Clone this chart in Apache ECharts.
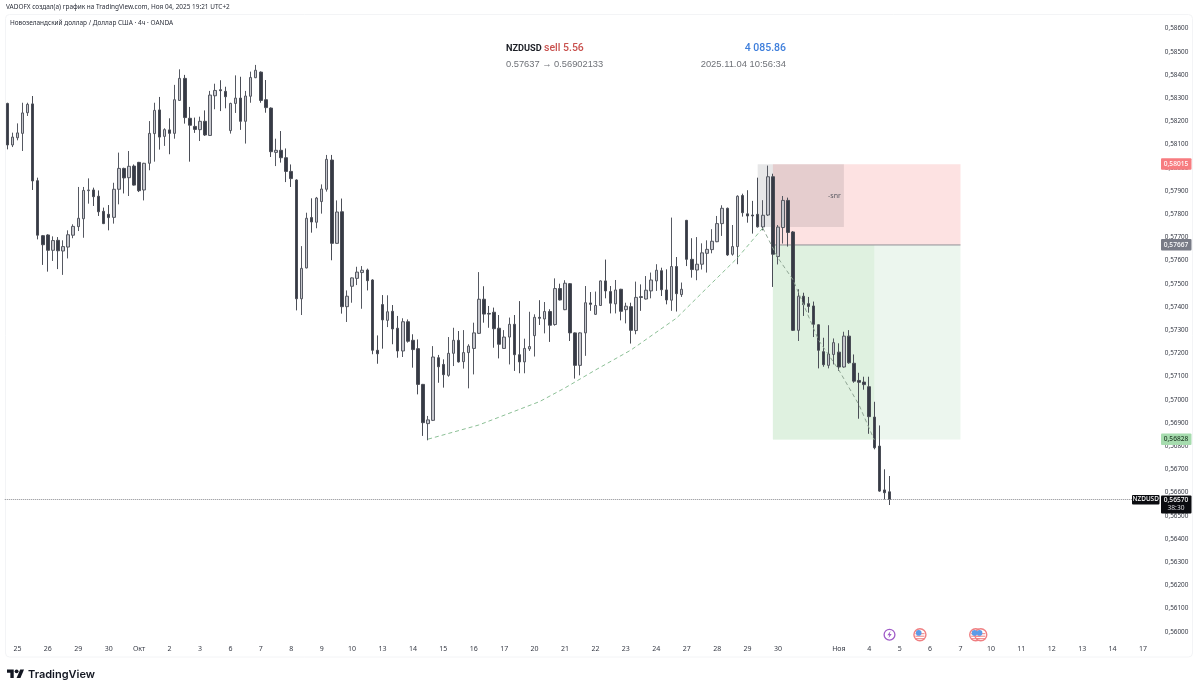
<!DOCTYPE html>
<html><head><meta charset="utf-8">
<style>html,body{margin:0;padding:0;background:#fff}#c{width:1200px;height:691px}</style>
<script src="https://cdn.jsdelivr.net/npm/echarts@6/dist/echarts.min.js"></script>
</head><body><div id="c"></div>
<script>
const opens=[0.58277,0.58098,0.58129,0.58148,0.58237,0.58275,0.57944,0.57707,0.57710,0.57644,
0.57687,0.57641,0.57658,0.57709,0.57746,0.57780,0.57901,0.57904,0.57877,0.57812,
0.57799,0.57786,0.57907,0.57997,0.57957,0.58007,0.58023,0.57904,0.58019,0.58147,
0.58249,0.58135,0.58163,0.58148,0.58290,0.58385,0.58213,0.58178,0.58164,0.58200,
0.58139,0.58310,0.58336,0.58329,0.58160,0.58277,0.58300,0.58200,0.58308,0.58388,
0.58412,0.58293,0.58257,0.58066,0.58075,0.58043,0.57984,0.57947,0.57435,0.57568,
0.57785,0.57765,0.57854,0.57907,0.58033,0.57674,0.57810,0.57401,0.57489,0.57523,
0.57548,0.57559,0.57516,0.57213,0.57410,0.57342,0.57381,0.57308,0.57210,0.57336,
0.57256,0.57220,0.57066,0.56897,0.56911,0.57181,0.57152,0.57105,0.57200,0.57256,
0.57164,0.57203,0.57221,0.57286,0.57433,0.57372,0.57377,0.57308,0.57221,0.57270,
0.57325,0.57194,0.57163,0.57219,0.57276,0.57355,0.57348,0.57380,0.57324,0.57479,
0.57388,0.57500,0.57288,0.57148,0.57288,0.57417,0.57368,0.57406,0.57512,0.57466,
0.57413,0.57476,0.57388,0.57401,0.57298,0.57444,0.57434,0.57469,0.57512,0.57556,
0.57473,0.57429,0.57574,0.57453,0.57773,0.57605,0.57559,0.57584,0.57631,0.57647,
0.57681,0.57759,0.57825,0.57627,0.57660,0.57880,0.57801,0.57796,0.57799,0.57745,
0.57796,0.57961,0.57617,0.57742,0.57859,0.57723,0.57299,0.57446,0.57414,0.57404,
0.57323,0.57207,0.57148,0.57195,0.57205,0.57141,0.57274,0.57157,0.57083,0.57076,
0.57056,0.56925,0.56800,0.56611,0.56603];
const highs=[0.58280,0.58151,0.58191,0.58280,0.58280,0.58309,0.57957,0.57710,0.57713,0.57704,
0.57701,0.57687,0.57730,0.57756,0.57917,0.57917,0.57954,0.57914,0.57902,0.57828,
0.57839,0.57935,0.58065,0.58000,0.58072,0.58014,0.58025,0.58021,0.58201,0.58280,
0.58305,0.58170,0.58213,0.58357,0.58424,0.58400,0.58262,0.58216,0.58220,0.58247,
0.58331,0.58362,0.58377,0.58349,0.58280,0.58398,0.58392,0.58331,0.58414,0.58443,
0.58415,0.58378,0.58260,0.58125,0.58158,0.58083,0.58014,0.57950,0.57662,0.57806,
0.57868,0.57874,0.57928,0.58055,0.58055,0.57859,0.57867,0.57471,0.57527,0.57573,
0.57576,0.57565,0.57519,0.57277,0.57451,0.57450,0.57408,0.57361,0.57351,0.57346,
0.57282,0.57260,0.57068,0.56930,0.57231,0.57193,0.57174,0.57270,0.57310,0.57296,
0.57300,0.57239,0.57332,0.57550,0.57489,0.57404,0.57397,0.57365,0.57300,0.57354,
0.57365,0.57425,0.57263,0.57379,0.57368,0.57429,0.57421,0.57390,0.57523,0.57500,
0.57515,0.57503,0.57290,0.57290,0.57490,0.57464,0.57466,0.57514,0.57604,0.57490,
0.57516,0.57478,0.57418,0.57418,0.57509,0.57497,0.57533,0.57548,0.57584,0.57569,
0.57562,0.57785,0.57615,0.57505,0.57775,0.57696,0.57701,0.57674,0.57687,0.57735,
0.57792,0.57838,0.57828,0.57753,0.57881,0.57888,0.57903,0.57857,0.57957,0.57860,
0.58009,0.57974,0.57753,0.57878,0.57871,0.57727,0.57476,0.57461,0.57443,0.57423,
0.57325,0.57267,0.57321,0.57264,0.57243,0.57293,0.57300,0.57195,0.57116,0.57099,
0.57099,0.56991,0.56889,0.56700,0.56671];
const lows=[0.58079,0.58089,0.58118,0.58072,0.58223,0.57904,0.57691,0.57581,0.57552,0.57598,
0.57563,0.57538,0.57609,0.57696,0.57727,0.57698,0.57845,0.57835,0.57792,0.57757,
0.57730,0.57759,0.57842,0.57889,0.57878,0.57923,0.57895,0.57859,0.57989,0.58026,
0.58078,0.58094,0.58058,0.58125,0.58288,0.58190,0.58026,0.58150,0.58115,0.58137,
0.58137,0.58252,0.58244,0.58256,0.58147,0.58236,0.58163,0.58104,0.58280,0.58386,
0.58280,0.58237,0.58046,0.58007,0.58022,0.57938,0.57917,0.57385,0.57365,0.57566,
0.57720,0.57739,0.57802,0.57897,0.57601,0.57672,0.57371,0.57335,0.57418,0.57494,
0.57392,0.57471,0.57196,0.57155,0.57220,0.57313,0.57239,0.57181,0.57184,0.57246,
0.57138,0.57023,0.56844,0.56825,0.56908,0.57073,0.57052,0.57099,0.57145,0.57160,
0.57134,0.57049,0.57109,0.57283,0.57332,0.57310,0.57224,0.57178,0.57219,0.57152,
0.57124,0.57114,0.57114,0.57210,0.57186,0.57322,0.57286,0.57249,0.57319,0.57428,
0.57386,0.57253,0.57091,0.57105,0.57189,0.57383,0.57365,0.57404,0.57437,0.57372,
0.57372,0.57342,0.57329,0.57242,0.57282,0.57383,0.57432,0.57437,0.57469,0.57447,
0.57411,0.57383,0.57380,0.57443,0.57576,0.57526,0.57515,0.57561,0.57548,0.57631,
0.57679,0.57706,0.57620,0.57621,0.57584,0.57789,0.57763,0.57716,0.57742,0.57730,
0.57792,0.57486,0.57583,0.57673,0.57660,0.57296,0.57253,0.57361,0.57375,0.57270,
0.57135,0.57142,0.57135,0.57152,0.57124,0.57138,0.57155,0.57073,0.56918,0.57043,
0.56853,0.56786,0.56603,0.56570,0.56546];
const closes=[0.58098,0.58132,0.58150,0.58236,0.58273,0.57943,0.57709,0.57668,0.57644,0.57686,
0.57642,0.57660,0.57711,0.57747,0.57782,0.57902,0.57904,0.57875,0.57810,0.57759,
0.57785,0.57907,0.57997,0.57956,0.58006,0.57925,0.57901,0.58019,0.58148,0.58247,
0.58132,0.58164,0.58148,0.58293,0.58385,0.58216,0.58183,0.58165,0.58200,0.58141,
0.58313,0.58333,0.58332,0.58306,0.58277,0.58300,0.58200,0.58309,0.58389,0.58420,
0.58290,0.58259,0.58069,0.58075,0.58043,0.57984,0.57953,0.57435,0.57566,0.57782,
0.57766,0.57869,0.57908,0.58036,0.57674,0.57809,0.57401,0.57446,0.57525,0.57550,
0.57558,0.57513,0.57213,0.57198,0.57344,0.57379,0.57305,0.57210,0.57336,0.57252,
0.57216,0.57066,0.56901,0.56913,0.57184,0.57142,0.57108,0.57200,0.57256,0.57163,
0.57203,0.57231,0.57288,0.57433,0.57369,0.57369,0.57306,0.57239,0.57270,0.57325,
0.57194,0.57163,0.57221,0.57229,0.57355,0.57351,0.57380,0.57321,0.57479,0.57430,
0.57502,0.57288,0.57148,0.57288,0.57418,0.57411,0.57406,0.57512,0.57469,0.57416,
0.57473,0.57381,0.57403,0.57299,0.57441,0.57441,0.57472,0.57516,0.57558,0.57474,
0.57430,0.57574,0.57457,0.57476,0.57605,0.57561,0.57584,0.57633,0.57648,0.57683,
0.57759,0.57825,0.57624,0.57660,0.57877,0.57806,0.57792,0.57792,0.57745,0.57795,
0.57961,0.57627,0.57744,0.57859,0.57721,0.57299,0.57446,0.57410,0.57402,0.57325,
0.57213,0.57151,0.57197,0.57246,0.57141,0.57274,0.57159,0.57080,0.57075,0.57065,
0.56927,0.56793,0.56606,0.56599,0.56570];

const dateLabels=["25","26","29","30","Окт","2","3","6","7","8","9","10","13","14","15","16","17","20","21","22","23","24","27","28","29","30","","Ноя","4","5","6","7","10","11","12","13","14","17"];
const FIRST_LABEL_BAR=2, BARS_PER_LABEL=6, BAR_SLOTS=228;

const stopPrice=0.58015, entryPrice=0.57667, targetPrice=0.56828, lastPrice=0.56570, grayBoxBottom=0.57744;
const riskFromBar=151, riskToBar=188, darkToBar=171, grayFromBar=148, grayToBar=165;

const arcBars=[83,93,105,110,116,123,132,138,144,149];
const arcPrices=[0.56830,0.56891,0.56992,0.57051,0.57128,0.57214,0.57352,0.57482,0.57611,0.57740];
const dropBars=[149,152,155,160,164,168,171];
const dropPrices=[0.57740,0.57611,0.57516,0.57257,0.57128,0.56977,0.56826];
const iconBars=[174,180,191,192];

const categories=Array.from({length:BAR_SLOTS},(_,i)=>{
  const k=(i-FIRST_LABEL_BAR)/BARS_PER_LABEL;
  return Number.isInteger(k)&&dateLabels[k]!==undefined?dateLabels[k]:"";
});
const candles=opens.map((o,i)=>[o,closes[i],lows[i],highs[i]]);
const comma=v=>v.toFixed(5).replace(".",",");
const FONT='"Noto Sans",sans-serif';
const chart=echarts.init(document.getElementById('c'),null,{renderer:'canvas'});
const box=(x0,x1,p0,p1,color,extra)=>[Object.assign({xAxis:x0,yAxis:p0,itemStyle:{color}},extra||{}),{xAxis:x1,yAxis:p1}];
chart.setOption({
  animation:false,backgroundColor:'#fff',
  grid:{left:4.77,top:28.5,width:1156,height:603.2,containLabel:false},
  xAxis:{type:'category',data:categories,boundaryGap:true,axisLine:{show:false},axisTick:{show:false},splitLine:{show:false},
    axisLabel:{interval:(i)=>(i-FIRST_LABEL_BAR)%BARS_PER_LABEL===0,margin:14,fontSize:7,color:'#363a45',fontFamily:FONT,
      hideOverlap:false,showMinLabel:true,showMaxLabel:true}},
  yAxis:{type:'value',position:'right',min:0.56,max:0.586,interval:0.001,scale:true,axisLine:{show:false},axisTick:{show:false},splitLine:{show:false},
    axisLabel:{inside:false,margin:4,fontSize:6.4,color:'#363a45',fontFamily:FONT,formatter:v=>comma(v)}},
  series:[
    {type:'line',name:'boxes',data:[],z:1,silent:true,markArea:{silent:true,precision:5,data:[
      box(riskFromBar,riskToBar,stopPrice,entryPrice,'#fde2e2'),
      box(riskFromBar,riskToBar,entryPrice,targetPrice,'#ecf6ee'),
      box(riskFromBar,darkToBar,entryPrice,targetPrice,'#dff1e0'),
      box(grayFromBar,grayToBar,stopPrice,grayBoxBottom,'rgba(40,40,50,0.115)',
        {label:{show:true,position:'insideRight',distance:3,formatter:'-snr',fontSize:7,color:'#5a5a62',fontFamily:FONT}})
    ]}},
    {type:'line',name:'entry',z:1,silent:true,symbol:'none',data:[[riskFromBar,entryPrice],[riskToBar,entryPrice]],lineStyle:{color:'#8f9095',width:1}},
    {type:'line',name:'arc',z:3,silent:true,symbol:'none',data:arcBars.map((b,i)=>[b,arcPrices[i]]),lineStyle:{color:'#8cc096',width:1,type:[4,3]}},
    {type:'line',name:'drop',z:3,silent:true,symbol:'none',data:dropBars.map((b,i)=>[b,dropPrices[i]]),lineStyle:{color:'#8fa594',width:1,type:[4,3]}},
    {type:'candlestick',name:'NZDUSD',z:2,barWidth:3,data:candles,silent:true,
      itemStyle:{color:'#c6c7cd',color0:'#363a45',borderColor:'#565962',borderColor0:'#4a4d56',borderWidth:1},
      markLine:{silent:true,precision:5,symbol:'none',animation:false,label:{show:false},lineStyle:{color:'#8a8b90',width:1,type:[1,1]},data:[{yAxis:lastPrice}]}}
  ]
});

const py=p=>chart.convertToPixel({yAxisIndex:0},p);
const bx=i=>chart.convertToPixel({xAxisIndex:0},i);
function tag(price,bg,fg){
  const y=py(price);
  return [{type:'rect',z:50,shape:{x:1161,y:y-6,width:30.5,height:11.5,r:1},style:{fill:bg}},
    {type:'text',z:51,x:1176,y:y-.2,style:{text:comma(price),font:'500 6.6px '+FONT,fill:fg,textAlign:'center',textVerticalAlign:'middle'}}];
}
const iconY=py(0.56)+3;
function flagIcon(x){
  const g=[{type:'circle',z:40,shape:{cx:x,cy:iconY,r:6},style:{fill:'#fff',stroke:'#ef7f82',lineWidth:1.4}}];
  [-1,1.5,4].forEach(d=>g.push({type:'line',z:41,shape:{x1:x-4.6,y1:iconY+d,x2:x+4.6,y2:iconY+d},style:{stroke:'#ef7f82',lineWidth:1}}));
  g.push({type:'circle',z:42,shape:{cx:x-1.2,cy:iconY-1.8,r:2.8},style:{fill:'#5b9be8'}});
  return g;
}
const px=iconBars.map(bx);
const lx=px[0], ly=iconY;
const sc=0.48, lgX=7, lgY=667.5;
const lg=pts=>pts.map(([a,b])=>[lgX+a*sc,lgY+b*sc]);
chart.setOption({graphic:{elements:[
  {type:'rect',z:0,silent:true,shape:{x:5.5,y:14.5,width:1187,height:642.5,r:4},style:{fill:'none',stroke:'#f3f4f6',lineWidth:1}},
  {type:'text',z:60,x:6,y:7,style:{text:'VADOFX создал(а) график на TradingView.com, Ноя 04, 2025 19:21 UTC+2',font:'6.45px '+FONT,fill:'#2a2e39',textVerticalAlign:'middle'}},
  {type:'text',z:60,x:10,y:23.5,style:{text:'Новозеландский доллар / Доллар США · 4ч · OANDA',font:'6.45px '+FONT,fill:'#2a2e39',textVerticalAlign:'middle'}},
  {type:'text',z:60,x:506,y:48.5,style:{text:'NZDUSD',font:'bold 9.2px Roboto,sans-serif',fill:'#1c1f26',textVerticalAlign:'middle'}},
  {type:'text',z:60,x:544,y:48.5,style:{text:'sell 5.56',font:'500 10.5px Roboto,sans-serif',fill:'#c9524f',textVerticalAlign:'middle'}},
  {type:'text',z:60,x:786,y:48.5,style:{text:'4 085.86',font:'500 10.5px Roboto,sans-serif',fill:'#3f7fdc',textAlign:'right',textVerticalAlign:'middle'}},
  {type:'text',z:60,x:506,y:64,style:{text:'0.57637 → 0.56902133',font:'9.3px "Liberation Sans",sans-serif',fill:'#6f7278',textVerticalAlign:'middle'}},
  {type:'text',z:60,x:786,y:64,style:{text:'2025.11.04 10:56:34',font:'9.4px "Liberation Sans",sans-serif',fill:'#6f7278',textAlign:'right',textVerticalAlign:'middle'}},
  ...tag(stopPrice,'#f77c80','#fff'),
  ...tag(entryPrice,'#787b86','#fff'),
  ...tag(targetPrice,'#a6dcae','#1f3a24'),
  {type:'rect',z:50,shape:{x:1132,y:py(lastPrice)-4.5,width:27.5,height:9.5,r:1},style:{fill:'#0b0c10'}},
  {type:'text',z:51,x:1145.7,y:py(lastPrice)+.2,style:{text:'NZDUSD',font:'500 6.4px '+FONT,fill:'#fff',textAlign:'center',textVerticalAlign:'middle'}},
  {type:'rect',z:50,shape:{x:1161,y:py(lastPrice)-4,width:30.5,height:18,r:1},style:{fill:'#0b0c10'}},
  {type:'text',z:51,x:1176,y:py(lastPrice)+.5,style:{text:comma(lastPrice),font:'500 6.6px '+FONT,fill:'#fff',textAlign:'center',textVerticalAlign:'middle'}},
  {type:'text',z:51,x:1176,y:py(lastPrice)+9,style:{text:'38:30',font:'6.6px '+FONT,fill:'#d8d8dc',textAlign:'center',textVerticalAlign:'middle'}},
  {type:'circle',z:40,shape:{cx:lx,cy:ly,r:5.4},style:{fill:'#fff',stroke:'#a05cc8',lineWidth:1.3}},
  {type:'polygon',z:41,shape:{points:[[lx+1,ly-3.6],[lx-2.2,ly+.6],[lx-.2,ly+.6],[lx-1,ly+3.6],[lx+2.2,ly-.8],[lx+.2,ly-.8]]},style:{fill:'#a05cc8'}},
  ...flagIcon(px[1]),...flagIcon(px[2]),...flagIcon(px[3]),
  {type:'polygon',z:60,shape:{points:lg([[14,22],[7,22],[7,11],[0,11],[0,4],[14,4]])},style:{fill:'#131722'}},
  {type:'polygon',z:60,shape:{points:lg([[28,22],[20,22],[27.5,4],[35.5,4]])},style:{fill:'#131722'}},
  {type:'circle',z:60,shape:{cx:lgX+20*sc,cy:lgY+8*sc,r:4*sc},style:{fill:'#131722'}},
  {type:'text',z:60,x:28,y:674.5,style:{text:'TradingView',font:'600 11px Inter,sans-serif',fill:'#131722',textVerticalAlign:'middle'}}
]}});
</script></body></html>
